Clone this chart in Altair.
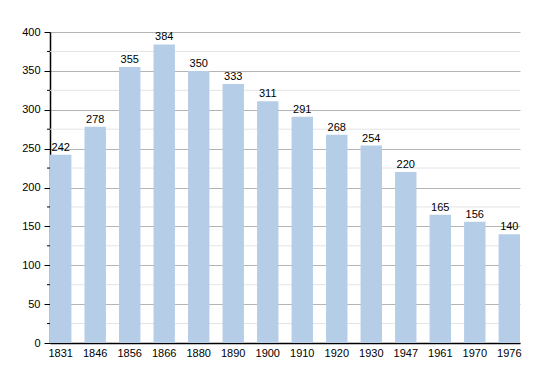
import altair as alt
import pandas as pd

years = ["1831", "1846", "1856", "1866", "1880", "1890", "1900", "1910", "1920", "1930", "1947", "1961", "1970", "1976"]
population = [242, 278, 355, 384, 350, 333, 311, 291, 268, 254, 220, 165, 156, 140]
major_ticks = [0, 50, 100, 150, 200, 250, 300, 350, 400]
minor_ticks = [25, 75, 125, 175, 225, 275, 325, 375]

df = pd.DataFrame({"year": years, "pop": population})
minor_df = pd.DataFrame({"v": minor_ticks})

FONT = "Liberation Sans"
yscale = alt.Scale(domain=[0, 400], nice=False)
xscale = alt.Scale(paddingInner=0.38, paddingOuter=0)

yaxis = alt.Axis(values=major_ticks, grid=True, gridColor="#b4b4b4", domainColor="#000000",
                 tickColor="#000000", tickSize=6, labelColor="#000000", labelFont=FONT,
                 labelFontSize=11, labelPadding=4, labelOverlap=False, labelFlush=False,
                 tickCount=9, title=None)
xaxis = alt.Axis(labelAngle=0, ticks=False, domainColor="#000000", labelColor="#000000",
                 labelFont=FONT, labelFontSize=11, labelPadding=4, title=None)

minor_grid = alt.Chart(minor_df).mark_rule(color="#e4e4e4", strokeWidth=1).encode(
    y=alt.Y("v:Q", scale=yscale, axis=yaxis),
    x=alt.value(0), x2=alt.value(470),
)
minor_tick = alt.Chart(minor_df).mark_rule(color="#000000", strokeWidth=1).encode(
    y=alt.Y("v:Q", scale=yscale, axis=yaxis),
    x=alt.value(-3), x2=alt.value(0),
)

bars = alt.Chart(df).mark_bar(color="#b5cde6").encode(
    x=alt.X("year:N", sort=years, scale=xscale, axis=xaxis),
    y=alt.Y("pop:Q", scale=yscale, axis=yaxis),
)

labels = alt.Chart(df).mark_text(baseline="bottom", dy=-2, font=FONT, fontSize=11, color="#000000").encode(
    x=alt.X("year:N", sort=years, scale=xscale, axis=xaxis),
    y=alt.Y("pop:Q", scale=yscale, axis=yaxis),
    text="pop:Q",
)

chart = alt.layer(minor_grid, bars, labels, minor_tick).properties(
    width=470, height=311,
    autosize=alt.AutoSizeParams(type="none"),
    padding={"left": 42, "top": 24, "right": 20, "bottom": 20},
).configure_view(stroke=None).configure_axis(domainWidth=1.5)

chart.save("out.html", embed_options={"renderer": "svg", "actions": False})
